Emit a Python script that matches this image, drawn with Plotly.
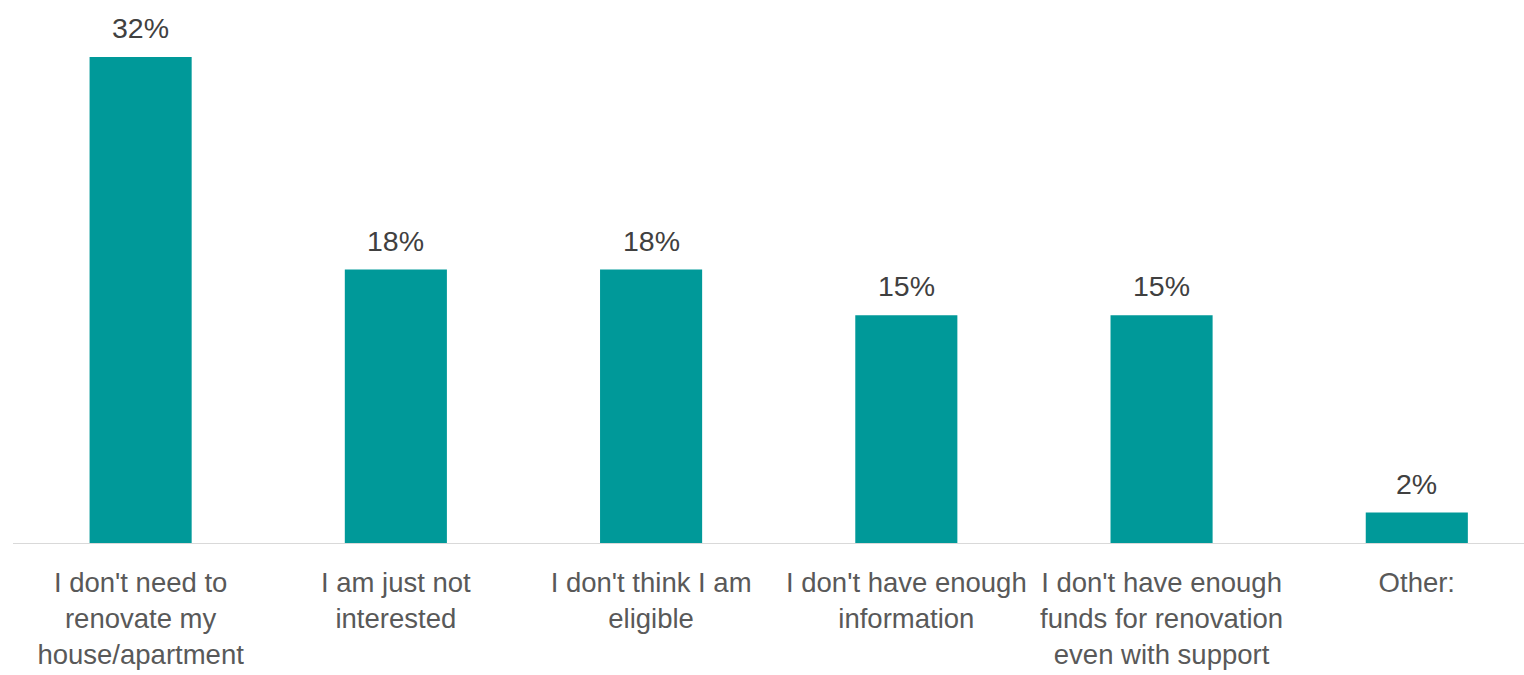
import plotly.graph_objects as go

# Survey: reasons for not planning a renovation
categories = [
    "I don't need to<br>renovate my<br>house/apartment",
    "I am just not<br>interested",
    "I don't think I am<br>eligible",
    "I don't have enough<br>information",
    "I don't have enough<br>funds for renovation<br>even with support",
    "Other:",
]
shares = [32, 18, 18, 15, 15, 2]

BAR_COLOR = "#009999"
FONT = "Liberation Sans, Arial, sans-serif"

x_pos = list(range(len(categories)))

fig = go.Figure(
    go.Bar(
        x=x_pos,
        y=shares,
        width=0.4,
        marker=dict(color=BAR_COLOR, line=dict(width=0)),
        hoverinfo="skip",
    )
)

# value labels above each bar
for xi, v in zip(x_pos, shares):
    fig.add_annotation(
        x=xi, y=v, text=f"{v}%", showarrow=False,
        yanchor="bottom", yshift=11,
        font=dict(family=FONT, size=28.5, color="#404040"),
    )

fig.update_layout(
    width=1524, height=675,
    margin=dict(l=13, r=0, t=0, b=132),
    plot_bgcolor="white", paper_bgcolor="white",
    showlegend=False,
    font=dict(family=FONT, color="#595959"),
    xaxis=dict(
        range=[-0.5, 5.42],
        tickmode="array", tickvals=x_pos, ticktext=categories,
        tickfont=dict(family=FONT, size=27.5, color="#595959"),
        tickangle=0, automargin=False,
        showline=True, linecolor="#d9d9d9", linewidth=1,
        showgrid=False, zeroline=False, ticks="",
        ticklabelstandoff=15,
    ),
    yaxis=dict(
        range=[0, 35.75], visible=False, showgrid=False, zeroline=False,
        automargin=False,
    ),
)

fig.write_html("out.html")
